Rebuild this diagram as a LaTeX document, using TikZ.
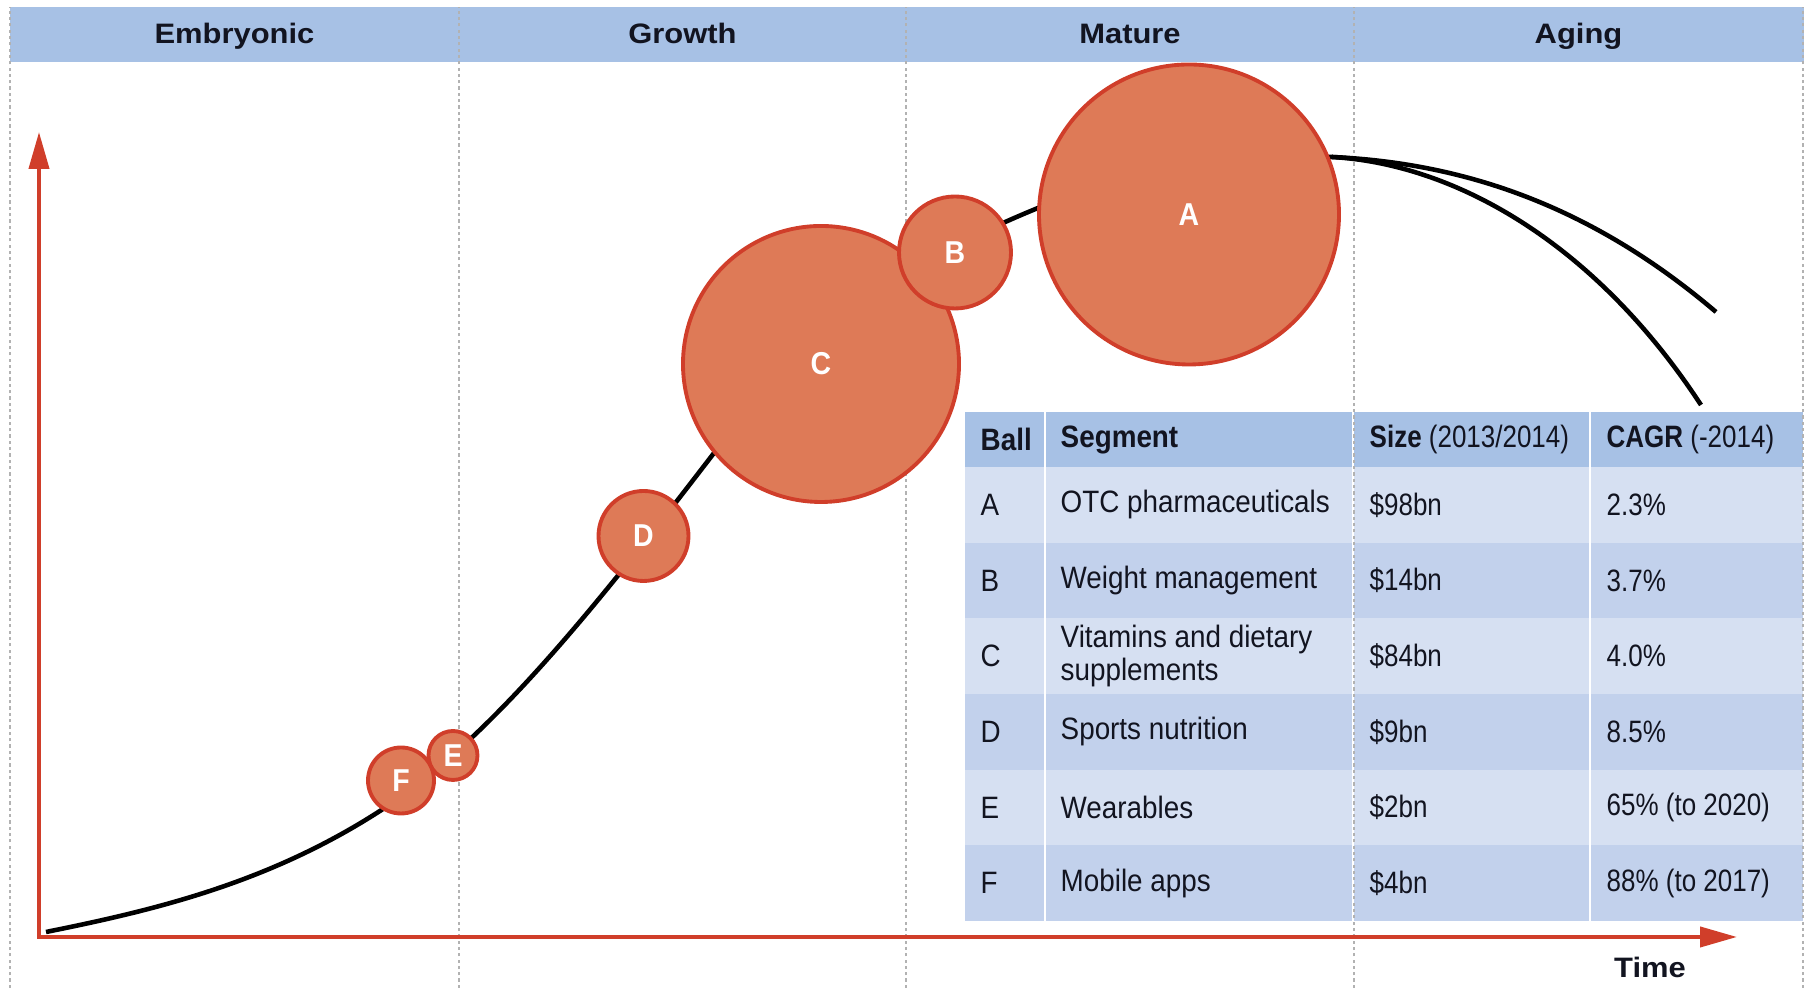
\documentclass[tikz,border=0pt]{standalone}
\usepackage{fontspec}
\setmainfont{Liberation Sans}[FakeStretch=0.9]
\newfontfamily\headfont{Liberation Sans}[FakeStretch=1.1]
\newfontfamily\numfont{Liberation Sans}[FakeStretch=0.84]
\usetikzlibrary{arrows.meta, calc, positioning}
\definecolor{band}{RGB}{167,193,229}
\definecolor{rowlight}{RGB}{214,224,242}
\definecolor{rowmid}{RGB}{194,209,236}
\definecolor{ballfill}{RGB}{222,122,87}
\definecolor{ballline}{RGB}{208,62,42}
\definecolor{axisred}{RGB}{208,62,42}
\definecolor{ink}{RGB}{18,20,32}

\begin{document}
\begin{tikzpicture}[
    stage/.style={anchor=base, text=ink, inner sep=0pt, font={\headfont\fontsize{8}{9}\selectfont\bfseries}},
    ball/.style={circle, draw=ballline, line width=1.1pt, fill=ballfill, text=white, inner sep=0pt, font={\fontsize{9}{10}\selectfont\bfseries}},
    cell/.style={anchor=west, text=ink, inner sep=0pt, align=left, font={\fontsize{8.8}{9.2}\selectfont}},
    numcell/.style={cell, font={\numfont\fontsize{8.8}{9.2}\selectfont}},
    divider/.style={gray!60, line width=0.4pt, dash pattern=on 0.9pt off 0.9pt},
    axis/.style={axisred, line width=1.15pt, {Triangle[length=3.7mm, width=2mm]}-{Triangle[length=3.7mm, width=2mm]}},
    curve/.style={black, line width=1.3pt}
]

    \useasboundingbox (0,0) rectangle (18.06,9.88);

    % Stage band
    \fill[band] (0.10,9.26) rectangle (18.04,9.81);
    \node[stage] (embryonic) at (2.345,9.44) {Embryonic};
    \node[stage] (growth) at (6.825,9.44) {Growth};
    \node[stage] (mature) at (11.30,9.44) {Mature};
    \node[stage] (aging) at (15.785,9.44) {Aging};

    % Table
    \fill[band] (9.65,5.21) rectangle (18.03,5.76);
    \node[cell, font={\fontsize{8.8}{9.2}\selectfont\bfseries}] (hball) at (9.80,5.485) {Ball};
    \node[cell, font={\fontsize{8.8}{9.2}\selectfont\bfseries}] (hseg) at (10.60,5.485) {Segment};
    \node[numcell] (hsize) at (13.69,5.485) {\textbf{Size} (2013/2014)};
    \node[numcell] (hcagr) at (16.06,5.485) {\textbf{CAGR} (-2014)};
    \foreach \b/\seg/\sz/\cg [count=\i] in {
        A/OTC pharmaceuticals/\$98bn/2.3\%,
        B/Weight management/\$14bn/3.7\%,
        C/{Vitamins and dietary\\supplements}/\$84bn/4.0\%,
        D/Sports nutrition/\$9bn/8.5\%,
        E/Wearables/\$2bn/65\% (to 2020),
        F/Mobile apps/\$4bn/88\% (to 2017)} {
        \pgfmathsetmacro{\ytop}{5.21-(\i-1)*0.7567}
        \pgfmathsetmacro{\ymid}{\ytop-0.378}
        \ifodd\i \def\rowcol{rowlight}\else \def\rowcol{rowmid}\fi
        \fill[\rowcol] (9.65,\ytop) rectangle (18.03,\ytop-0.7567);
        \node[cell] (ball\i) at (9.80,\ymid) {\b};
        \node[cell] (seg\i) at (10.60,\ymid) {\seg};
        \node[numcell] (size\i) at (13.69,\ymid) {\sz};
        \node[numcell] (cagr\i) at (16.06,\ymid) {\cg};
    }
    \foreach \x in {10.45, 13.53, 15.90} {
        \draw[white, line width=0.25mm] (\x,0.67) -- (\x,5.76);
    }

    % Stage dividers
    \foreach \x in {0.10, 4.59, 9.06, 13.54, 18.03} {
        \draw[divider] (\x,0) -- (\x,9.81);
    }

    % Axes
    \coordinate (origin) at (0.39,0.51);
    \coordinate (ytip) at (0.39,8.56);
    \coordinate (xtip) at (17.37,0.51);
    \draw[axis] (ytip) -- (origin) -- (xtip);
    \node[stage] (time) at (16.50,0.10) {Time};

    % Life cycle curve
    \draw[curve] (0.46,0.56) .. controls (1.58,0.785) and (2.71,1.06) .. (3.83,1.79)
        .. controls (4.933,2.507) and (6.037,3.916) .. (7.14,5.35)
        .. controls (8.22,6.754) and (9.30,7.357) .. (10.38,7.80)
        .. controls (11.36,8.20) and (12.34,8.34) .. (13.32,8.31) coordinate (split);
    \draw[curve] (split) .. controls (14.6,8.25) and (15.88,7.85) .. (17.16,6.76);
    \draw[curve] (split) .. controls (14.55,8.24) and (15.95,7.45) .. (17.01,5.83);

    % Balls
    \node[ball, minimum size=30mm] (A) at (11.89,7.735) {A};
    \node[ball, minimum size=27.6mm] (C) at (8.21,6.24) {C};
    \node[ball, minimum size=11.2mm] (B) at (9.55,7.355) {B};
    \node[ball, minimum size=9mm] (D) at (6.435,4.52) {D};
    \node[ball, minimum size=6.6mm] (F) at (4.01,2.075) {F};
    \node[ball, minimum size=4.9mm] (E) at (4.53,2.325) {E};

\end{tikzpicture}
\end{document}
